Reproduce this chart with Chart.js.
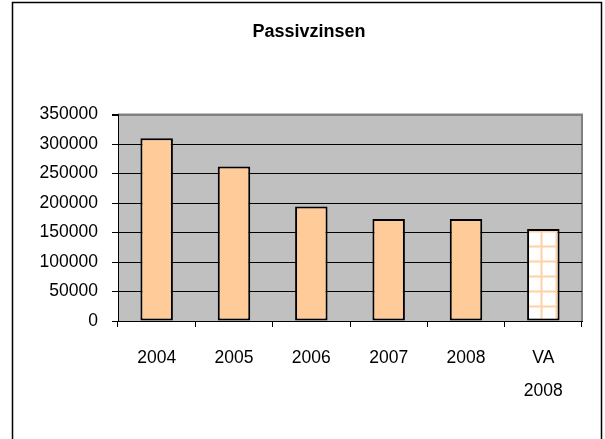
<!DOCTYPE html>
<html>
<head>
<meta charset="utf-8">
<script src="https://cdn.jsdelivr.net/npm/chart.js@4"></script>
<style>
  html, body { margin: 0; padding: 0; background: #fff; }
  #wrap { width: 605px; height: 439px; }
</style>
</head>
<body>
<div id="wrap"><canvas id="zinsChart" width="605" height="439"></canvas></div>
<script>
// values
const years = ["2004", "2005", "2006", "2007", "2008", ["VA", "2008"]];
const passivzinsen = [310000, 262000, 194000, 173000, 173000, 156000];
const yMin = 0;
const yMax = 350000;
const yStep = 50000;

const FONT = '"Liberation Sans", Arial, sans-serif';

// checkered fill for the estimate bar
function gridPattern() {
  const c = document.createElement("canvas");
  c.width = 15;
  c.height = 15;
  const g = c.getContext("2d");
  g.fillStyle = "#fff";
  g.fillRect(0, 0, 15, 15);
  g.strokeStyle = "#FFD2A6";
  g.lineWidth = 2;
  g.beginPath();
  g.moveTo(1.5, 0); g.lineTo(1.5, 15);
  g.moveTo(0, 6.5); g.lineTo(15, 6.5);
  g.stroke();
  return g.createPattern(c, "repeat");
}

const frame = {
  id: "frame",
  beforeDraw(chart) {
    const ctx = chart.ctx;
    const a = chart.chartArea;
    ctx.save();
    ctx.fillStyle = "#fff";
    ctx.fillRect(0, 0, chart.width, chart.height);
    ctx.strokeStyle = "#000";
    ctx.lineWidth = 1.5;
    ctx.strokeRect(12.5, 2.5, 589, 480);
    ctx.fillStyle = "#C0C0C0";
    ctx.fillRect(a.left, a.top, a.right - a.left, a.bottom - a.top);
    ctx.strokeStyle = "#808080";
    ctx.lineWidth = 2;
    ctx.beginPath();
    ctx.moveTo(a.left, a.top);
    ctx.lineTo(a.right, a.top);
    ctx.lineTo(a.right, a.bottom);
    ctx.stroke();
    ctx.restore();
  }
};

const ctx = document.getElementById("zinsChart").getContext("2d");
const fills = passivzinsen.map((v, i) => i === passivzinsen.length - 1 ? gridPattern() : "#FFCC99");

new Chart(ctx, {
  type: "bar",
  data: {
    labels: years,
    datasets: [
      {
        label: "Passivzinsen",
        data: passivzinsen,
        backgroundColor: fills,
        borderColor: "#000",
        borderWidth: 2,
        borderSkipped: false,
        categoryPercentage: 1,
        barPercentage: 0.42
      }
    ]
  },
  options: {
    responsive: false,
    animation: false,
    // left padding keeps the title centred like the original
    layout: { padding: { left: 36, right: 23, top: 0, bottom: 0 } },
    plugins: {
      legend: { display: false },
      tooltip: { enabled: false },
      title: {
        display: true,
        text: "Passivzinsen",
        color: "#000",
        font: { family: FONT, size: 18, weight: "bold", lineHeight: 1.2 },
        padding: { top: 21, bottom: 72 }
      }
    },
    scales: {
      x: {
        offset: true,
        grid: {
          offset: true,
          drawOnChartArea: false,
          drawTicks: true,
          tickLength: 6,
          color: "#000",
          tickColor: "#000"
        },
        border: { display: true, color: "#000", width: 1 },
        ticks: {
          color: "#000",
          padding: 14,
          maxRotation: 0,
          font: { family: FONT, size: 17.5, lineHeight: 1.92 }
        },
        afterFit(scale) { scale.height = 118; }
      },
      y: {
        min: yMin,
        max: yMax,
        grid: {
          color: c => c.tick && c.tick.value === yMax ? "#808080" : "#000",
          tickColor: "#000",
          tickLength: 6,
          lineWidth: c => c.tick && c.tick.value === yMax ? 2 : 1
        },
        border: { display: true, color: "#000", width: 1 },
        ticks: {
          stepSize: yStep,
          color: "#000",
          padding: 14,
          font: { family: FONT, size: 17.5, lineHeight: 1.2 },
          callback: v => String(v)
        },
        afterFit(scale) { scale.width = 82; }
      }
    }
  },
  plugins: [frame]
});
</script>
</body>
</html>
